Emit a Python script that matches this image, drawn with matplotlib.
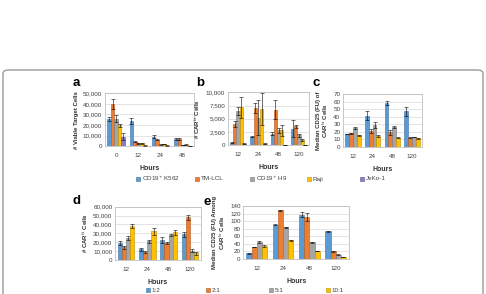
import matplotlib.pyplot as plt
import numpy as np
from matplotlib.patches import FancyBboxPatch, Rectangle

plt.rcParams['font.family'] = ['Liberation Sans', 'DejaVu Sans']

# panel a: viable target cells
a_hours = ['0', '12', '24', '48']
a_k562 = [25500, 23500, 9000, 6800]
a_tmlcl = [40000, 4000, 6000, 7000]
a_h9 = [26000, 2800, 1500, 800]
a_raji = [19500, 2500, 2000, 1500]
a_jeko = [9000, 500, 500, 400]
a_k562_err = [2000, 3000, 1800, 800]
a_tmlcl_err = [4500, 500, 400, 900]
a_h9_err = [3000, 400, 300, 200]
a_raji_err = [1500, 300, 300, 200]
a_jeko_err = [3000, 100, 100, 100]

# panel b: CAR cells
b_hours = ['12', '24', '48', '120']
b_k562 = [500, 1600, 2200, 3100]
b_tmlcl = [4000, 7000, 6700, 3600]
b_h9 = [6500, 5200, 2800, 1900]
b_raji = [7200, 6800, 2800, 1000]
b_jeko = [300, 300, 100, 50]
b_k562_err = [100, 100, 300, 1600]
b_tmlcl_err = [500, 1000, 1800, 300]
b_h9_err = [800, 3300, 500, 300]
b_raji_err = [2000, 3000, 1000, 200]
b_jeko_err = [50, 50, 30, 20]

# panel c: median CD25
c_hours = ['12', '24', '48', '120']
c_k562 = [17, 41, 58, 47]
c_tmlcl = [18, 21, 19, 12]
c_h9 = [25, 29, 26, 13]
c_raji = [15, 14, 12, 11]
c_k562_err = [0.5, 6, 3, 6]
c_tmlcl_err = [0.5, 3, 3, 0.5]
c_h9_err = [1, 4, 1, 0.5]
c_raji_err = [1, 1, 0.5, 0.5]

# panel d: CAR cells by E:T ratio
d_hours = ['12', '24', '48', '120']
d_r12 = [19000, 12000, 22500, 29000]
d_r21 = [14000, 9000, 19000, 48000]
d_r51 = [24500, 21000, 28500, 10500]
d_r101 = [38000, 32500, 31000, 7500]
d_r12_err = [2500, 1500, 3000, 3000]
d_r21_err = [2000, 1000, 1000, 3000]
d_r51_err = [2500, 1500, 1000, 2000]
d_r101_err = [2500, 4000, 2500, 1500]

# panel e: median CD25 by E:T ratio
e_hours = ['12', '24', '48', '120']
e_r12 = [15, 91, 118, 74]
e_r21 = [32, 130, 112, 20]
e_r51 = [46, 84, 44, 12]
e_r101 = [35, 50, 22, 6]
e_r12_err = [0.5, 1, 7, 1]
e_r21_err = [1, 1, 10, 0.5]
e_r51_err = [3, 1, 1, 0.5]
e_r101_err = [2, 1, 0.5, 0.5]

targets = ['CD19$^{+}$ K562', 'TM-LCL', 'CD19$^{+}$ H9', 'Raji', 'JeKo-1']
ratios = ['1:2', '2:1', '5:1', '10:1']
colors = ['#5B9BD5', '#ED7D31', '#A5A5A5', '#FFC000', '#8E7CC3']
edges = ['#41719C', '#AE5A21', '#787878', '#BC8C00', '#5F4F8F']

fig = plt.figure(figsize=(4.86, 2.94), dpi=100)

box = FancyBboxPatch((3 / 486, -0.2), 480 / 486, 1.2 - 70 / 294,
                     boxstyle='round,pad=0,rounding_size=0.012',
                     transform=fig.transFigure, fill=False,
                     edgecolor='#9A9A9A', linewidth=1.0)
fig.patches.append(box)


def panel(rect, cats, series, errs, ylim, step, ylabel, letter, lxy, comma=True):
    ax = fig.add_axes(rect)
    n = len(series)
    w = 0.78 / n
    x = np.arange(len(cats))
    for i, (vals, er) in enumerate(zip(series, errs)):
        pos = x - 0.39 + w * (i + 0.5)
        ax.bar(pos, vals, w, color=colors[i], edgecolor=edges[i], linewidth=0.4, zorder=2)
        ax.errorbar(pos, vals, yerr=er, fmt='none', ecolor='black',
                    elinewidth=0.4, capsize=1.2, capthick=0.4, zorder=3)
    ax.set_xlim(-0.5, len(cats) - 0.5)
    ax.set_ylim(*ylim)
    ax.set_yticks(np.arange(ylim[0], ylim[1] + step / 2, step))
    if comma:
        ax.set_yticklabels(['{:,}'.format(int(v)) for v in ax.get_yticks()])
    ax.set_xticks(x)
    ax.set_xticklabels(cats)
    ax.tick_params(length=0, labelsize=4.5, colors='#404040')
    ax.tick_params(axis='x', pad=5)
    ax.tick_params(axis='y', pad=2)
    ax.grid(axis='y', color='#D9D9D9', linewidth=0.5, zorder=0)
    ax.set_axisbelow(True)
    for s in ax.spines.values():
        s.set_color('#BFBFBF')
        s.set_linewidth(0.6)
    ax.set_xlabel('Hours', fontsize=5, fontweight='bold', labelpad=5, color='#303030')
    ax.set_ylabel(ylabel, fontsize=4.3, fontweight='bold', labelpad=2.5, color='#303030',
                  linespacing=1.0)
    fig.text(lxy[0], lxy[1], letter, fontsize=9.5, fontweight='bold', ha='center', va='center')
    return ax


panel([0.216, 0.503, 0.183, 0.180], a_hours,
      [a_k562, a_tmlcl, a_h9, a_raji, a_jeko],
      [a_k562_err, a_tmlcl_err, a_h9_err, a_raji_err, a_jeko_err],
      (0, 50000), 10000, '# Viable Target Cells', 'a', (0.158, 0.717))
panel([0.469, 0.506, 0.167, 0.180], b_hours,
      [b_k562, b_tmlcl, b_h9, b_raji, b_jeko],
      [b_k562_err, b_tmlcl_err, b_h9_err, b_raji_err, b_jeko_err],
      (0, 10000), 2500, '# CAR$^{hi}$ Cells', 'b', (0.412, 0.717))
panel([0.706, 0.501, 0.162, 0.179], c_hours,
      [c_k562, c_tmlcl, c_h9, c_raji],
      [c_k562_err, c_tmlcl_err, c_h9_err, c_raji_err],
      (0, 70), 10, 'Median CD25 (FU) of\nCAR$^{hi}$ Cells', 'c', (0.650, 0.717), comma=False)
panel([0.237, 0.116, 0.176, 0.181], d_hours,
      [d_r12, d_r21, d_r51, d_r101],
      [d_r12_err, d_r21_err, d_r51_err, d_r101_err],
      (0, 60000), 10000, '# CAR$^{hi}$ Cells', 'd', (0.158, 0.317))
panel([0.501, 0.119, 0.217, 0.179], e_hours,
      [e_r12, e_r21, e_r51, e_r101],
      [e_r12_err, e_r21_err, e_r51_err, e_r101_err],
      (0, 140), 20, 'Median CD25 (FU) Among\nCAR$^{hi}$ Cells', 'e', (0.426, 0.313), comma=False)


def legend_row(labels, xs, y):
    for i, (lab, xp) in enumerate(zip(labels, xs)):
        fig.patches.append(Rectangle((xp / 486 - 0.004, y - 0.0085), 0.008, 0.017,
                                     transform=fig.transFigure, facecolor=colors[i],
                                     edgecolor=edges[i], linewidth=0.4))
        fig.text(xp / 486 + 0.008, y, lab, fontsize=4.5, va='center', ha='left', color='#404040')


legend_row(targets, [138, 197, 252, 309, 362], 1 - 179 / 294)
legend_row(ratios, [148, 208, 271, 328], 1 - 290 / 294)

fig.savefig('out.png', dpi=100)
